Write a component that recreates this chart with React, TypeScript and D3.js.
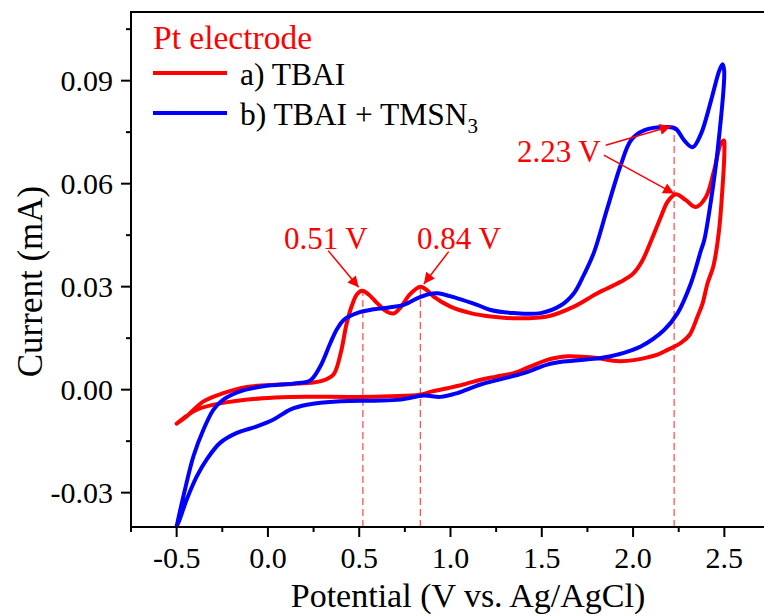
import React, { useEffect } from "react";
import * as d3 from "d3";

// CV data: [potential (V), current (mA)]
const tbaiForward: [number, number][] = [
  [-0.5, -0.0099], [-0.444, -0.0077], [-0.353, -0.0034], [-0.244, -0.001], [-0.115, 0.0008],
  [0.067, 0.0015], [0.232, 0.002], [0.3, 0.0026], [0.36, 0.0045], [0.4, 0.011], [0.43, 0.019],
  [0.46, 0.0245], [0.488, 0.0278], [0.516, 0.0288], [0.55, 0.0278], [0.598, 0.0252], [0.65, 0.0228],
  [0.689, 0.0222], [0.73, 0.0242], [0.775, 0.0276], [0.835, 0.030], [0.875, 0.0288], [0.908, 0.0271],
  [1.0, 0.0242], [1.11, 0.0223], [1.22, 0.0213], [1.345, 0.0208], [1.53, 0.0213], [1.676, 0.0242],
  [1.805, 0.0281], [1.932, 0.0314], [2.0, 0.0338], [2.05, 0.0375], [2.1, 0.0435], [2.152, 0.0503],
  [2.19, 0.0548], [2.234, 0.0569], [2.289, 0.0552], [2.344, 0.0532], [2.399, 0.0561], [2.444, 0.0639],
  [2.48, 0.0716], [2.497, 0.0726],
];
const tbaiReverse: [number, number][] = [
  [2.5, 0.069], [2.49, 0.059], [2.47, 0.046], [2.44, 0.036], [2.408, 0.031], [2.38, 0.025],
  [2.353, 0.0213], [2.31, 0.016], [2.262, 0.0136], [2.189, 0.0116], [2.134, 0.0102], [2.079, 0.0094],
  [2.005, 0.0086], [1.93, 0.0083], [1.88, 0.0085], [1.805, 0.0092], [1.72, 0.0096], [1.64, 0.0097],
  [1.58, 0.0093], [1.53, 0.0087], [1.439, 0.0068], [1.347, 0.0048], [1.25, 0.0038], [1.165, 0.0029],
  [1.05, 0.0012], [0.991, 0.0005], [0.9, -0.0005], [0.83, -0.0015], [0.67, -0.0019], [0.49, -0.0021],
  [0.12, -0.0021], [-0.03, -0.0025], [-0.26, -0.004], [-0.389, -0.0058], [-0.46, -0.0082], [-0.5, -0.0099],
];
const azideForward: [number, number][] = [
  [-0.5, -0.0398], [-0.454, -0.029], [-0.408, -0.0194], [-0.353, -0.0116], [-0.298, -0.0058],
  [-0.244, -0.0029], [-0.152, -0.0005], [-0.024, 0.001], [0.159, 0.0019], [0.232, 0.0027],
  [0.287, 0.0068], [0.342, 0.0136], [0.38, 0.0178], [0.415, 0.0203], [0.488, 0.0223], [0.579, 0.0234],
  [0.671, 0.024], [0.744, 0.0247], [0.817, 0.0266], [0.88, 0.0278], [0.927, 0.0281], [1.037, 0.0266],
  [1.146, 0.0247], [1.22, 0.0232], [1.347, 0.0223], [1.494, 0.0223], [1.603, 0.0245], [1.676, 0.0281],
  [1.731, 0.0335], [1.786, 0.0400], [1.86, 0.0530], [1.933, 0.0655], [1.988, 0.0726], [2.06, 0.0755],
  [2.189, 0.0765], [2.234, 0.076], [2.28, 0.0726], [2.326, 0.0706], [2.372, 0.0745], [2.427, 0.0842],
  [2.472, 0.0929], [2.49, 0.0948],
];
const azideReverse: [number, number][] = [
  [2.499, 0.0929], [2.463, 0.0697], [2.427, 0.0552], [2.39, 0.0436], [2.372, 0.0406], [2.317, 0.031],
  [2.244, 0.0223], [2.17, 0.0174], [2.042, 0.0126], [1.914, 0.0102], [1.823, 0.0092], [1.621, 0.0082],
  [1.53, 0.0073], [1.402, 0.0048], [1.165, 0.0015], [1.037, -0.001], [0.945, -0.0021], [0.854, -0.0017],
  [0.726, -0.0029], [0.579, -0.0032], [0.397, -0.0034], [0.214, -0.0044], [0.122, -0.0058],
  [0.031, -0.0087], [-0.06, -0.0107], [-0.17, -0.0126], [-0.262, -0.0155], [-0.335, -0.0203],
  [-0.389, -0.0252], [-0.444, -0.0319], [-0.49, -0.0387], [-0.5, -0.0398],
];

const seriesNames = ["a) TBAI", "b) TBAI + TMSN"];
const seriesColors = ["#ff0000", "#0000ff"];

// peak markers
const peakPotentials = [0.52, 0.835, 2.225];
const peakTops = [0.0288, 0.030, 0.0765];
const peakLabels = ["0.51 V", "0.84 V", "2.23 V"];
const labelSpots: [number, number, string][] = [
  [0.317, 0.0411, "middle"], [1.046, 0.0411, "middle"], [1.823, 0.0664, "end"],
];
const arrowTails: [number, number][] = [[0.33, 0.0405], [0.99, 0.0402], [1.85, 0.0712], [1.84, 0.0683]];
const arrowTips: [number, number][] = [[0.497, 0.0298], [0.854, 0.0308], [2.207, 0.0767], [2.225, 0.0571]];

const xMajor = [-0.5, 0.0, 0.5, 1.0, 1.5, 2.0, 2.5];
const yMajor = [-0.03, 0.0, 0.03, 0.06, 0.09];

const W = 764, H = 616;
const margin = { top: 12, left: 131, bottom: 89, right: -6 };
const font = "'Liberation Serif', 'Times New Roman', serif";
const fmt = (spec: string) => (v: number) => d3.format(spec)(v).replace("\u2212", "-");

export default function App() {
  useEffect(() => {
    document.body.style.margin = "0";
    document.documentElement.style.overflow = "hidden";
    document.body.style.overflow = "hidden";
  }, []);

  const x = d3.scaleLinear().domain([-0.75, 2.75]).range([margin.left, W - margin.right]);
  const y = d3.scaleLinear().domain([-0.04, 0.11]).range([H - margin.bottom, margin.top]);
  const line = d3.line<[number, number]>()
    .x(d => x(d[0]))
    .y(d => y(d[1]))
    .curve(d3.curveCatmullRom.alpha(0.5));

  const xMinor = d3.range(-0.75, 2.76, 0.25).filter(v => !xMajor.some(m => Math.abs(m - v) < 1e-6));
  const yMinor = d3.range(-0.045, 0.111, 0.015).filter(v => v >= -0.04 && !yMajor.some(m => Math.abs(m - v) < 1e-6));

  const x0 = x(-0.75), yb = y(-0.04), yt = y(0.11);
  const curves = [
    [tbaiForward, tbaiReverse],
    [azideForward, azideReverse],
  ];

  return (
    <svg width={W} height={H} style={{ position: "fixed", left: 0, top: 0, display: "block", background: "#fff" }} fontFamily={font}>
      <defs>
        <clipPath id="plot">
          <rect x={x0} y={yt} width={W - x0} height={yb - yt} />
        </clipPath>
        <marker id="arrow" markerUnits="userSpaceOnUse" viewBox="0 0 10 10" refX="10" refY="5"
          markerWidth="15" markerHeight="11" orient="auto">
          <path d="M0,0 L10,5 L0,10 z" fill="#ff0000" />
        </marker>
      </defs>

      {/* dashed peak guides */}
      {peakPotentials.map((p, i) => (
        <line key={"d" + i} x1={x(p)} x2={x(p)} y1={yb} y2={y(peakTops[i])}
          stroke="#ff5555" strokeWidth={1.3} strokeDasharray="7,4" />
      ))}

      {/* curves */}
      <g clipPath="url(#plot)" fill="none" strokeWidth={4} strokeLinejoin="round" strokeLinecap="round">
        {curves.map((c, i) => (
          <path key={"c" + i} d={line([...c[0], ...c[1]]) || ""} stroke={seriesColors[i]} />
        ))}
      </g>

      {/* arrows */}
      {arrowTails.map((t, i) => (
        <line key={"a" + i} x1={x(t[0])} y1={y(t[1])} x2={x(arrowTips[i][0])} y2={y(arrowTips[i][1])}
          stroke="#ff0000" strokeWidth={1.5} markerEnd="url(#arrow)" />
      ))}
      {peakLabels.map((l, i) => (
        <text key={"l" + i} x={x(labelSpots[i][0])} y={y(labelSpots[i][1])} fontSize={31}
          fill="#ff0000" textAnchor={labelSpots[i][2] as any}>{l}</text>
      ))}

      {/* frame (right side falls outside the picture) */}
      <g stroke="#000" strokeWidth={2} fill="none">
        <line x1={x0} x2={x0} y1={yt} y2={yb + 1} />
        <line x1={x0 - 1} x2={W} y1={yb} y2={yb} />
        <line x1={x0 - 1} x2={W} y1={yt} y2={yt} />
      </g>

      {/* ticks */}
      <g stroke="#000" strokeWidth={2}>
        {xMajor.map(v => <line key={"xt" + v} x1={x(v)} x2={x(v)} y1={yb} y2={yb + 10} />)}
        {xMinor.filter(v => x(v) < W).map(v => <line key={"xm" + v} x1={x(v)} x2={x(v)} y1={yb} y2={yb + 5} />)}
        {yMajor.map(v => <line key={"yt" + v} x1={x0} x2={x0 - 10} y1={y(v)} y2={y(v)} />)}
        {yMinor.map(v => <line key={"ym" + v} x1={x0} x2={x0 - 5} y1={y(v)} y2={y(v)} />)}
      </g>
      {xMajor.map(v => (
        <text key={"xl" + v} x={x(v)} y={yb + 41} fontSize={30} textAnchor="middle" fill="#000">
          {fmt(".1f")(v)}
        </text>
      ))}
      {yMajor.map(v => (
        <text key={"yl" + v} x={x0 - 18} y={y(v)} dy="0.34em" fontSize={30} textAnchor="end" fill="#000">
          {fmt(".2f")(v)}
        </text>
      ))}

      {/* axis titles */}
      <text x={468} y={607} fontSize={34} textAnchor="middle" fill="#000">Potential (V vs. Ag/AgCl)</text>
      <text transform={`translate(42,${(yt + yb) / 2 + 12}) rotate(-90)`} fontSize={35} textAnchor="middle" fill="#000">
        Current (mA)
      </text>

      {/* legend */}
      <text x={153} y={49} fontSize={33.5} fill="#ff0000">Pt electrode</text>
      {seriesNames.map((n, i) => (
        <g key={"lg" + i} transform={`translate(153,${73 + i * 40})`}>
          <line x1={0} x2={74} y1={0} y2={0} stroke={seriesColors[i]} strokeWidth={4} />
          <text x={87} y={12} fontSize={31.5} fill="#000">
            {n}
            {i === 1 && <tspan fontSize={21} dy={8}>3</tspan>}
          </text>
        </g>
      ))}
    </svg>
  );
}
